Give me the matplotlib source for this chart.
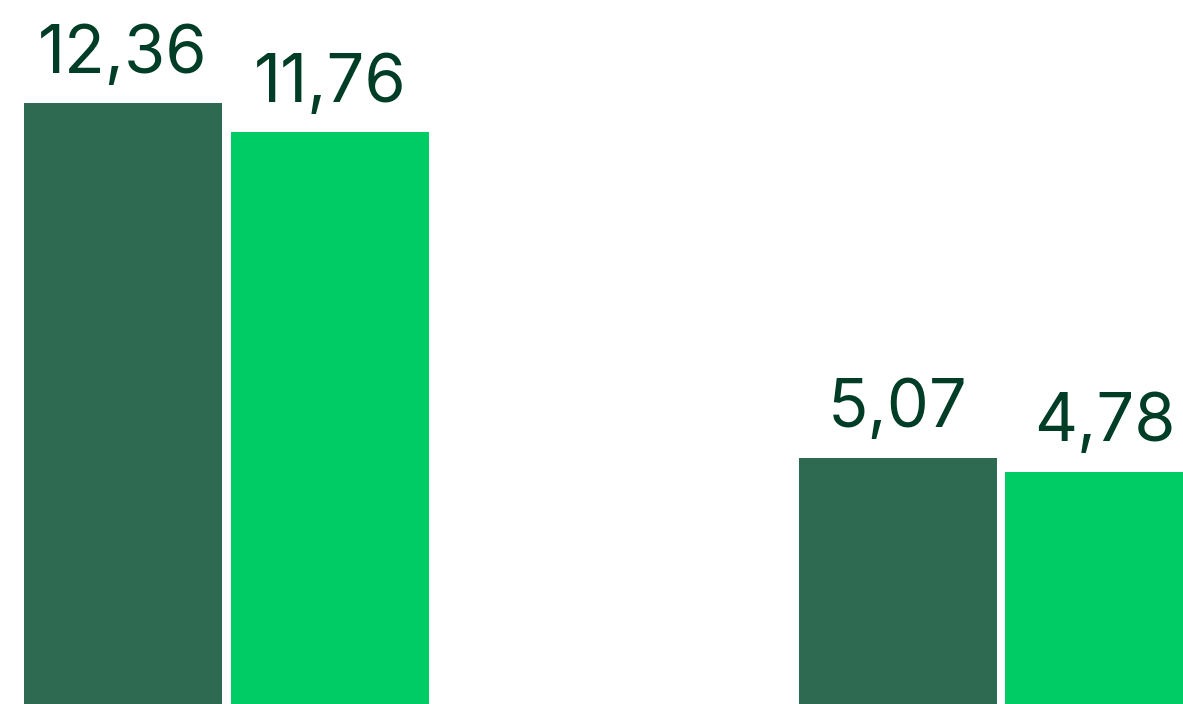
import numpy as np
import matplotlib.pyplot as plt

groups = ['A', 'B']
serie1 = [12.36, 5.07]
serie2 = [11.76, 4.78]
labels1 = ['12,36', '5,07']
labels2 = ['11,76', '4,78']

dark = '#2e6a52'
bright = '#00cc66'
textcol = '#003d26'

fig = plt.figure(figsize=(11.83, 7.04), dpi=100)
ax = fig.add_axes([0, 0, 1, 1])

x = np.arange(len(groups))
width = 0.256
off = 0.1336

b1 = ax.bar(x - off, serie1, width, color=dark)
b2 = ax.bar(x + off, serie2, width, color=bright)

for bars, labs in ((b1, labels1), (b2, labels2)):
    for b, lab in zip(bars, labs):
        ax.annotate(lab, (b.get_x() + b.get_width() / 2, b.get_height()),
                    xytext=(0, 22), textcoords='offset points',
                    ha='center', va='baseline', fontsize=48,
                    family='Inter', color=textcol)

ax.set_xlim(-0.2926, 1.2348)
ax.set_ylim(0, 14.48)
ax.axis('off')

fig.savefig('out.png', dpi=100)
